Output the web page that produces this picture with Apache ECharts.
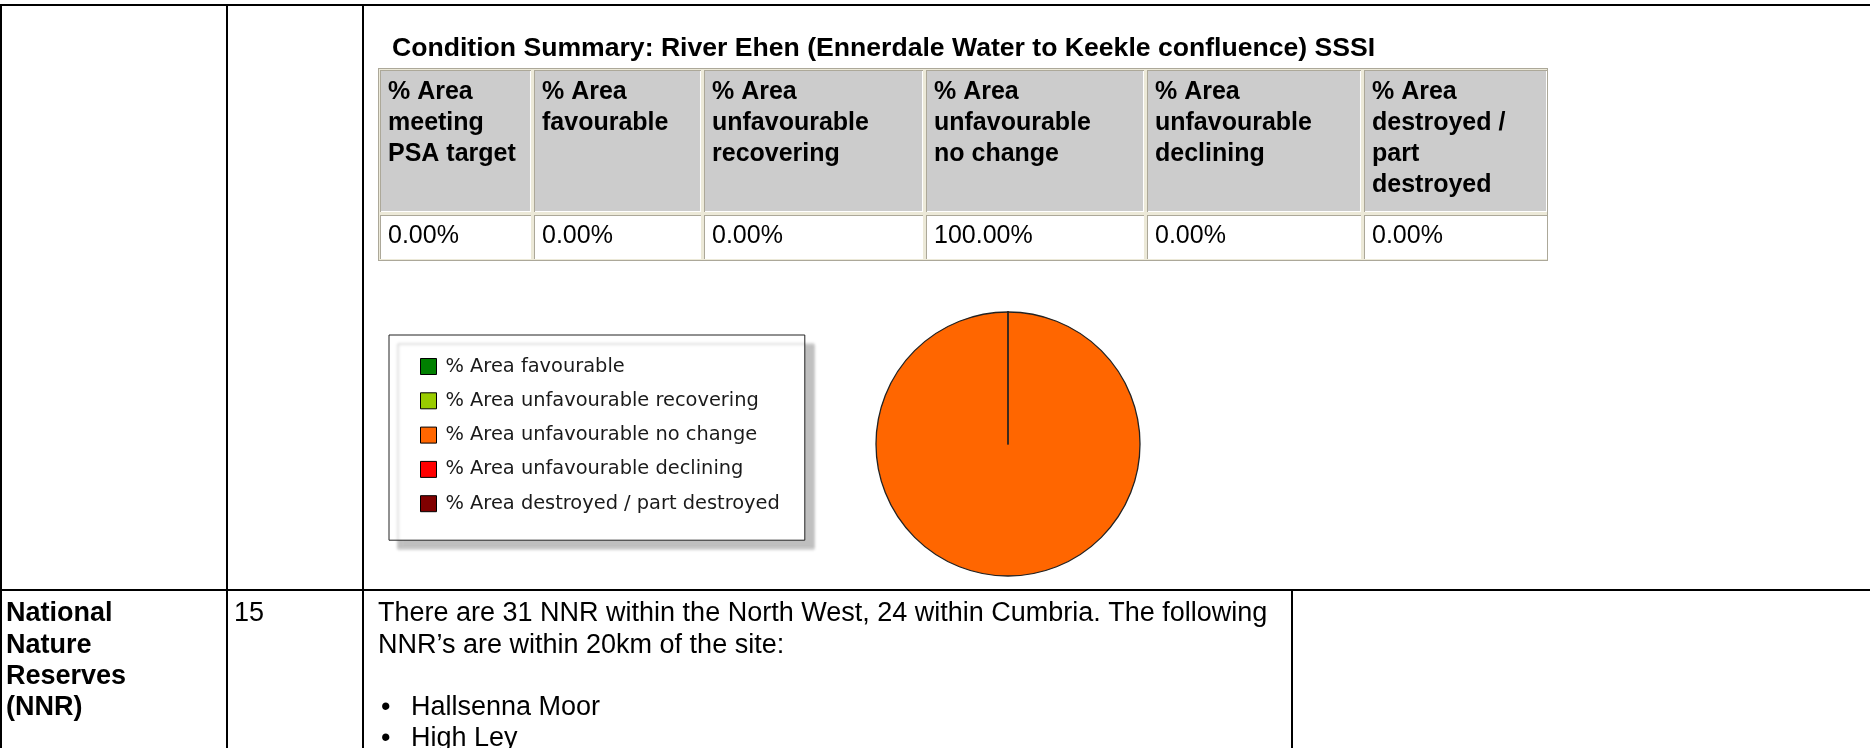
<!DOCTYPE html>
<html><head><meta charset="utf-8">
<script src="https://cdn.jsdelivr.net/npm/echarts@6/dist/echarts.min.js"></script>
<style>html,body{margin:0;padding:0;background:#fff}#c{width:1870px;height:748px}</style>
</head><body><div id="c"></div>
<script>
// ---- data ----
const title = 'Condition Summary: River Ehen (Ennerdale Water to Keekle confluence) SSSI';
const tableHeaders = ['% Area\nmeeting\nPSA target', '% Area\nfavourable', '% Area\nunfavourable\nrecovering', '% Area\nunfavourable\nno change', '% Area\nunfavourable\ndeclining', '% Area\ndestroyed /\npart\ndestroyed'];
const tableValues = [0, 0, 0, 100, 0, 0];
const categories = ['% Area favourable', '% Area unfavourable recovering', '% Area unfavourable no change', '% Area unfavourable declining', '% Area destroyed / part destroyed'];
const pieValues = [0, 0, 100, 0, 0];
const pieColors = ['#008000', '#99CC00', '#FF6600', '#FF0000', '#800000'];
const rowLabel = ['National', 'Nature', 'Reserves', '(NNR)'];
const rowNumber = '15';
const rowText = ['There are 31 NNR within the North West, 24 within Cumbria. The following', 'NNR\u2019s are within 20km of the site:', ''];
const nnrList = ['Hallsenna Moor', 'High Ley'];

// ---- layout ----
const FONT = '"Liberation Sans", Arial, Helvetica, sans-serif';
const colX = [378, 532, 702, 924, 1145, 1362, 1548];
const tTop = 68, hBot = 212, dTop = 214, tBot = 261;
const g = [];
function rect(x, y, w, h, fill, z) { g.push({ type: 'rect', shape: { x, y, width: w, height: h }, style: { fill }, silent: true, z: z || 1 }); }
function text(x, y, s, size, bold, extra) {
  g.push(Object.assign({ type: 'text', x, y, silent: true, z: 5, style: Object.assign({ text: s, font: (bold ? 'bold ' : '') + size + 'px ' + FONT, fill: '#000', verticalAlign: 'middle', align: 'left' }, extra || {}) }));
}
// document grid lines
rect(0, 4, 1870, 2, '#000');
rect(0, 4, 2, 744, '#000');
rect(226, 4, 2, 744, '#000');
rect(362, 4, 2, 744, '#000');
rect(0, 589, 1870, 2, '#000');
rect(1291, 589, 2, 159, '#000');

// title
text(392, 49, title, 26.6, true);

// table
rect(colX[0], tTop, colX[6] - colX[0], tBot - tTop, '#ACA899');
rect(colX[0] + 1, tTop + 1, colX[6] - colX[0] - 2, tBot - tTop - 2, '#ECE9D8');
for (let i = 0; i < tableHeaders.length; i++) {
  const x0 = colX[i] + 2, x1 = colX[i + 1] - 1;
  rect(x0, tTop + 2, x1 - x0, hBot - tTop - 2, '#ACA899');
  rect(x0 + 1, tTop + 3, x1 - x0 - 1, hBot - tTop - 3, '#FFFFFF');
  rect(x0 + 1, tTop + 3, x1 - x0 - 2, hBot - tTop - 4, '#CCCCCC');
  rect(x0, dTop + 1, x1 - x0, tBot - dTop - 3, '#ACA899');
  rect(x0 + 1, dTop + 2, x1 - x0 - 1, tBot - dTop - 4, '#FFFFFF');
  text(colX[i] + 10, 77, tableHeaders[i], 25, true, { verticalAlign: 'top', lineHeight: 30.8 });
  text(colX[i] + 10, 236, tableValues[i].toFixed(2) + '%', 25, false);
}

// bottom row
const lh = 31.2, y0 = 614;
rowLabel.forEach((s, i) => text(6, y0 + i * lh, s, 27, true));
text(234, y0, rowNumber, 27, false);
rowText.forEach((s, i) => text(378, y0 + i * lh, s, 27, false));
nnrList.forEach((s, i) => {
  text(381, y0 + (rowText.length + i) * lh, '\u2022', 27, false);
  text(411, y0 + (rowText.length + i) * lh, s, 27, false);
});

const chart = echarts.init(document.getElementById('c'), null, { renderer: 'canvas' });
chart.setOption({
  animation: false,
  backgroundColor: '#fff',
  legend: {
    orient: 'vertical',
    left: 389, top: 335,
    padding: [22, 25, 27, 31],
    itemWidth: 16, itemHeight: 16, itemGap: 15.3,
    icon: 'rect',
    backgroundColor: '#fff',
    borderColor: '#222', borderWidth: 1,
    shadowColor: 'rgba(0,0,0,0.25)', shadowBlur: 3, shadowOffsetX: 9, shadowOffsetY: 9,
    selectedMode: false,
    itemStyle: { borderColor: '#000', borderWidth: 1 },
    textStyle: { fontFamily: '"DejaVu Sans", Verdana, sans-serif', fontSize: 19.4, color: '#1a1a1a', padding: [0, 0, 0, 4] },
    data: categories
  },
  graphic: g,
  series: [{
    type: 'pie',
    center: [1008, 444], radius: 132,
    startAngle: 90, clockwise: true,
    label: { show: false }, labelLine: { show: false },
    emphasis: { disabled: true }, silent: true,
    itemStyle: { borderColor: '#222', borderWidth: 1.3 },
    data: categories.map((c, i) => ({ name: c, value: pieValues[i], itemStyle: { color: pieColors[i] } }))
  }]
});
</script>
</body></html>
